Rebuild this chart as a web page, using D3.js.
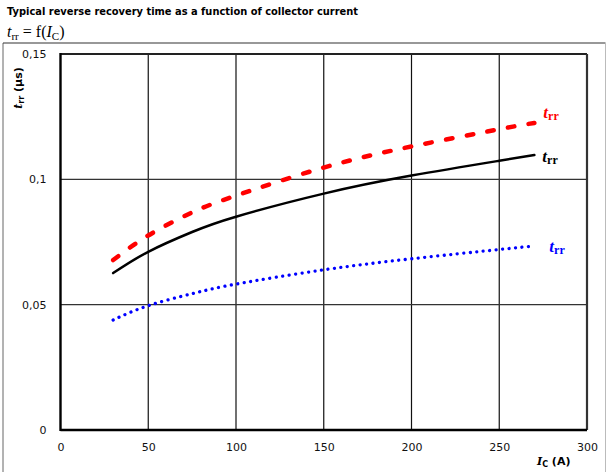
<!DOCTYPE html>
<html>
<head>
<meta charset="utf-8">
<script src="https://cdn.jsdelivr.net/npm/d3@7"></script>
<style>
  body { margin: 0; background: #fff; }
  svg { display: block; }
</style>
</head>
<body>
<div id="chart-container"></div>
<script>
// typical reverse recovery time t_rr vs collector current I_C
const currents = [30, 50, 75, 100, 150, 200, 250, 270];
const trrRed   = [0.0678, 0.0776, 0.0868, 0.0935, 0.1047, 0.1131, 0.1200, 0.1225];
const trrBlack = [0.0626, 0.0711, 0.0790, 0.0851, 0.0943, 0.1015, 0.1074, 0.1097];
const trrBlue  = [0.0439, 0.0496, 0.0544, 0.0582, 0.0639, 0.0683, 0.0720, 0.0734];
const xTicks = [0, 50, 100, 150, 200, 250, 300];
const yTicks = [0, 0.05, 0.1, 0.15];
const yTickLabels = ["0", "0,05", "0,1", "0,15"];

const svgWidth = 607;
const svgHeight = 472;
const margin = { top: 54, right: 20, bottom: 42, left: 60.5 };
const width = svgWidth - margin.left - margin.right;
const height = svgHeight - margin.top - margin.bottom;

const svg = d3.select("#chart-container")
    .append("svg")
    .attr("width", svgWidth)
    .attr("height", svgHeight)
    .style("font-family", "'DejaVu Sans', Verdana, sans-serif");

// outer frame
svg.append("line").attr("x1", 3).attr("x2", 3).attr("y1", 43).attr("y2", svgHeight)
    .attr("stroke", "#666").attr("stroke-width", 1);
svg.append("line").attr("x1", 3).attr("x2", 605.5).attr("y1", 43).attr("y2", 43)
    .attr("stroke", "#333").attr("stroke-width", 1.2);
svg.append("line").attr("x1", 605.5).attr("x2", 605.5).attr("y1", 43).attr("y2", svgHeight)
    .attr("stroke", "#bbb").attr("stroke-width", 1);

// titles
svg.append("text")
    .attr("x", 7).attr("y", 15)
    .attr("font-size", "9.9px")
    .attr("font-weight", "bold")
    .text("Typical reverse recovery time as a function of collector current");

const sub = svg.append("text")
    .attr("x", 7).attr("y", 37)
    .attr("font-family", "'Liberation Serif', 'DejaVu Serif', serif")
    .attr("font-size", "16px");
sub.append("tspan").attr("font-style", "italic").text("t");
sub.append("tspan").attr("font-size", "11px").attr("dy", 3).text("rr");
sub.append("tspan").attr("dy", -3).text(" = f(");
sub.append("tspan").attr("font-style", "italic").text("I");
sub.append("tspan").attr("font-size", "11px").attr("dy", 3).text("C");
sub.append("tspan").attr("dy", -3).text(")");

const chart = svg.append("g")
    .attr("transform", `translate(${margin.left},${margin.top})`);

const scaleX = d3.scaleLinear().domain([0, 300]).range([0, width]);
const scaleY = d3.scaleLinear().domain([0, 0.15]).range([height, 0]);

// grid
chart.append("g")
    .selectAll("line")
    .data(xTicks.slice(1, -1))
    .enter()
    .append("line")
    .attr("x1", d => scaleX(d)).attr("x2", d => scaleX(d))
    .attr("y1", 0).attr("y2", height)
    .attr("stroke", "#111").attr("stroke-width", 1.2);

chart.append("g")
    .selectAll("line")
    .data(yTicks.slice(1, -1))
    .enter()
    .append("line")
    .attr("x1", 0).attr("x2", width)
    .attr("y1", d => scaleY(d)).attr("y2", d => scaleY(d))
    .attr("stroke", "#333").attr("stroke-width", 1.4);

// plot border
chart.append("line").attr("x1", 0).attr("x2", width).attr("y1", 0).attr("y2", 0)
    .attr("stroke", "#222").attr("stroke-width", 2);
chart.append("line").attr("x1", width).attr("x2", width).attr("y1", 0).attr("y2", height)
    .attr("stroke", "#333").attr("stroke-width", 2.2);
chart.append("line").attr("x1", 0).attr("x2", 0).attr("y1", -1).attr("y2", height + 1)
    .attr("stroke", "#000").attr("stroke-width", 2.4);
chart.append("line").attr("x1", 0).attr("x2", width).attr("y1", height).attr("y2", height)
    .attr("stroke", "#000").attr("stroke-width", 2.4);

// axes (labels only)
const xAxis = chart.append("g")
    .attr("transform", `translate(0,${height})`)
    .call(d3.axisBottom(scaleX).tickValues(xTicks).tickSize(0).tickPadding(13));
const yAxis = chart.append("g")
    .call(d3.axisLeft(scaleY).tickValues(yTicks).tickSize(0).tickPadding(14)
        .tickFormat((d, i) => yTickLabels[i]));
[xAxis, yAxis].forEach(a => {
    a.select(".domain").remove();
    a.selectAll("text")
        .attr("font-family", "'DejaVu Sans', Verdana, sans-serif")
        .attr("font-size", "11px")
        .attr("fill", "#111");
});

// axis titles
const xt = svg.append("text")
    .attr("x", 537).attr("y", 465)
    .attr("font-size", "11px")
    .attr("font-weight", "bold");
xt.append("tspan").attr("font-style", "italic")
    .attr("font-family", "'DejaVu Serif', serif").text("I");
xt.append("tspan").attr("font-size", "8px").attr("dy", 2).text("C");
xt.append("tspan").attr("dy", -2).text(" (A)");

const yt = svg.append("text")
    .attr("transform", "translate(22,88) rotate(-90)")
    .attr("text-anchor", "middle")
    .attr("font-size", "11px")
    .attr("font-weight", "bold");
yt.append("tspan").attr("font-style", "italic")
    .attr("font-family", "'DejaVu Serif', serif").text("t");
yt.append("tspan").attr("font-size", "8px").attr("dy", 2).text("rr");
yt.append("tspan").attr("dy", -2).text(" (µs)");

// series
const series = [
    { values: trrRed, color: "#ff0000", width: 4.5, dash: "6.5 14.5", dx: 9, dy: -5 },
    { values: trrBlack, color: "#000000", width: 2.5, dash: null, dx: 8, dy: 7 },
    { values: trrBlue, color: "#0000ff", width: 3.3, dash: "0.01 6.5", dx: 15, dy: 6 }
];

const line = d3.line()
    .x(d => scaleX(d[0]))
    .y(d => scaleY(d[1]))
    .curve(d3.curveNatural);

series.forEach(s => {
    const pts = currents.map((c, i) => [c, s.values[i]]);
    chart.append("path")
        .attr("d", line(pts))
        .attr("fill", "none")
        .attr("stroke", s.color)
        .attr("stroke-width", s.width)
        .attr("stroke-linecap", "round")
        .attr("stroke-dasharray", s.dash);

    const last = pts[pts.length - 1];
    const lab = chart.append("text")
        .attr("x", scaleX(last[0]) + s.dx)
        .attr("y", scaleY(last[1]) + s.dy)
        .attr("font-family", "'Liberation Serif', 'DejaVu Serif', serif")
        .attr("font-weight", "bold")
        .attr("font-size", "17px")
        .attr("fill", s.color);
    lab.append("tspan").attr("font-style", "italic").text("t");
    lab.append("tspan").attr("font-size", "12px").attr("dy", 2).text("rr");
});
</script>
</body>
</html>
